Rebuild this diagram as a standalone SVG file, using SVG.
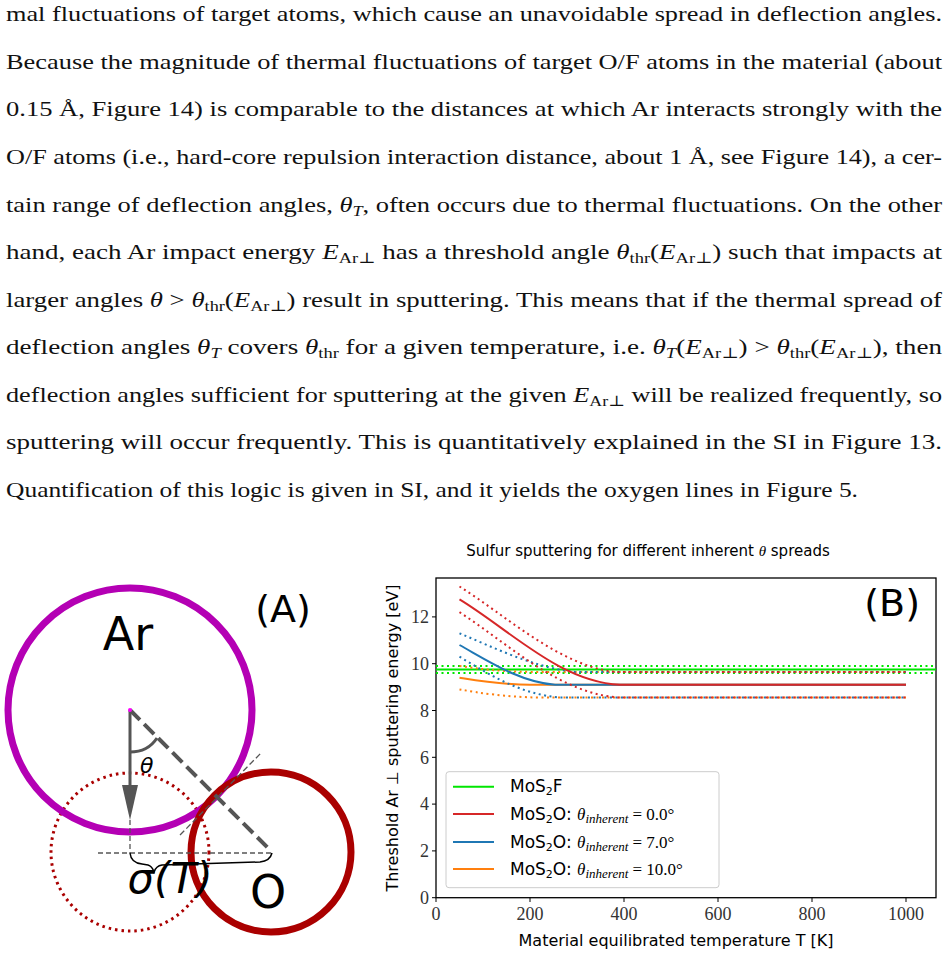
<svg xmlns="http://www.w3.org/2000/svg" width="949" height="956" viewBox="0 0 949 956">
<style>
.p{font-family:"Liberation Serif","DejaVu Serif",serif;font-size:22px;fill:#111}
.i{font-style:italic}
.s{font-size:15px}
.sf{font-family:"DejaVu Sans","Liberation Sans",sans-serif;fill:#000}
.tk{font-family:"Liberation Serif","DejaVu Serif",serif;font-size:18px;fill:#333}
.dot{stroke-dasharray:2 3.5;fill:none;stroke-width:2}
.sol{fill:none;stroke-width:2}
</style>
<rect width="949" height="956" fill="#fff"/>
<g id="text">
<text class="p" x="6" y="21" textLength="936" lengthAdjust="spacingAndGlyphs">mal fluctuations of target atoms, which cause an unavoidable spread in deflection angles.</text>
<text class="p" x="6" y="69" textLength="936" lengthAdjust="spacingAndGlyphs">Because the magnitude of thermal fluctuations of target O/F atoms in the material (about</text>
<text class="p" x="6" y="116" textLength="936" lengthAdjust="spacingAndGlyphs">0.15 Å, Figure 14) is comparable to the distances at which Ar interacts strongly with the</text>
<text class="p" x="6" y="164" textLength="936" lengthAdjust="spacingAndGlyphs">O/F atoms (i.e., hard-core repulsion interaction distance, about 1 Å, see Figure 14), a cer-</text>
<text class="p" x="6" y="212" textLength="936" lengthAdjust="spacingAndGlyphs">tain range of deflection angles, <tspan class="i">θ</tspan><tspan class="i s" dy="4">T</tspan><tspan dy="-4">, often occurs due to thermal fluctuations. On the other</tspan></text>
<text class="p" x="6" y="259" textLength="936" lengthAdjust="spacingAndGlyphs">hand, each Ar impact energy <tspan class="i">E</tspan><tspan class="s" dy="4">Ar⊥</tspan><tspan dy="-4"> has a threshold angle </tspan><tspan class="i">θ</tspan><tspan class="s" dy="4">thr</tspan><tspan dy="-4">(</tspan><tspan class="i">E</tspan><tspan class="s" dy="4">Ar⊥</tspan><tspan dy="-4">) such that impacts at</tspan></text>
<text class="p" x="6" y="307" textLength="936" lengthAdjust="spacingAndGlyphs">larger angles <tspan class="i">θ</tspan> &gt; <tspan class="i">θ</tspan><tspan class="s" dy="4">thr</tspan><tspan dy="-4">(</tspan><tspan class="i">E</tspan><tspan class="s" dy="4">Ar⊥</tspan><tspan dy="-4">) result in sputtering. This means that if the thermal spread of</tspan></text>
<text class="p" x="6" y="354" textLength="936" lengthAdjust="spacingAndGlyphs">deflection angles <tspan class="i">θ</tspan><tspan class="i s" dy="4">T</tspan><tspan dy="-4"> covers </tspan><tspan class="i">θ</tspan><tspan class="s" dy="4">thr</tspan><tspan dy="-4"> for a given temperature, i.e. </tspan><tspan class="i">θ</tspan><tspan class="i s" dy="4">T</tspan><tspan dy="-4">(</tspan><tspan class="i">E</tspan><tspan class="s" dy="4">Ar⊥</tspan><tspan dy="-4">) &gt; </tspan><tspan class="i">θ</tspan><tspan class="s" dy="4">thr</tspan><tspan dy="-4">(</tspan><tspan class="i">E</tspan><tspan class="s" dy="4">Ar⊥</tspan><tspan dy="-4">), then</tspan></text>
<text class="p" x="6" y="402" textLength="936" lengthAdjust="spacingAndGlyphs">deflection angles sufficient for sputtering at the given <tspan class="i">E</tspan><tspan class="s" dy="4">Ar⊥</tspan><tspan dy="-4"> will be realized frequently, so</tspan></text>
<text class="p" x="6" y="449" textLength="936" lengthAdjust="spacingAndGlyphs">sputtering will occur frequently. This is quantitatively explained in the SI in Figure 13.</text>
<text class="p" x="6" y="497" textLength="852" lengthAdjust="spacingAndGlyphs">Quantification of this logic is given in SI, and it yields the oxygen lines in Figure 5.</text>
</g>
<g id="panelA">
<circle cx="130" cy="852" r="79" fill="none" stroke="#aa0000" stroke-width="3" stroke-dasharray="2.5 4"/>
<circle cx="130" cy="710" r="122" fill="none" stroke="#b400b4" stroke-width="7"/>
<circle cx="271" cy="852" r="80" fill="none" stroke="#aa0000" stroke-width="7"/>
<line x1="130" y1="710" x2="270" y2="850" stroke="#555" stroke-width="4" stroke-dasharray="14 6"/>
<line x1="180" y1="835" x2="262" y2="752" stroke="#555" stroke-width="1.3" stroke-dasharray="6 3"/>
<line x1="98" y1="853" x2="272" y2="853" stroke="#555" stroke-width="1.3" stroke-dasharray="5 3"/>
<line x1="130" y1="820" x2="130" y2="853" stroke="#555" stroke-width="1.3" stroke-dasharray="5 3"/>
<line x1="130" y1="710" x2="130" y2="790" stroke="#555" stroke-width="3"/>
<path d="M122,785 L138,785 L130,820 Z" fill="#555"/>
<path d="M130,752 Q148,752 157,738" fill="none" stroke="#555" stroke-width="3"/>
<circle cx="130" cy="710" r="2" fill="#ff00ff"/>
<path d="M130,853 Q131,863 142,864 L148,865 Q152,866 154,872 Q156,866 162,865 L260,862 Q270,861 272,853" fill="none" stroke="#000" stroke-width="1.5"/>
<text class="sf" x="140" y="773" font-size="22" font-style="italic">θ</text>
<text class="sf" x="128" y="650" font-size="46" text-anchor="middle">Ar</text>
<text class="sf" x="283" y="622" font-size="38" text-anchor="middle">(A)</text>
<text class="sf" x="268" y="908" font-size="46" text-anchor="middle">O</text>
<text class="sf" x="170" y="893" font-size="42" text-anchor="middle" font-style="italic">σ(T)</text>
</g>
<g id="panelB">
<text class="sf" x="648" y="556" font-size="15" text-anchor="middle">Sulfur sputtering for different inherent <tspan font-style="italic" font-family="Liberation Serif">θ</tspan> spreads</text>
<rect x="436" y="578" width="500" height="319.7" fill="none" stroke="#000" stroke-width="1.3"/>
<g stroke="#000" stroke-width="1">
<line x1="436" y1="897.7" x2="436" y2="902"/><line x1="530" y1="897.7" x2="530" y2="902"/><line x1="624" y1="897.7" x2="624" y2="902"/><line x1="718" y1="897.7" x2="718" y2="902"/><line x1="812" y1="897.7" x2="812" y2="902"/><line x1="906" y1="897.7" x2="906" y2="902"/>
<line x1="432" y1="897.7" x2="436" y2="897.7"/><line x1="432" y1="850.9" x2="436" y2="850.9"/><line x1="432" y1="804.1" x2="436" y2="804.1"/><line x1="432" y1="757.3" x2="436" y2="757.3"/><line x1="432" y1="710.5" x2="436" y2="710.5"/><line x1="432" y1="663.7" x2="436" y2="663.7"/><line x1="432" y1="616.9" x2="436" y2="616.9"/>
</g>
<g class="tk" text-anchor="middle">
<text x="436" y="920">0</text><text x="530" y="920">200</text><text x="624" y="920">400</text><text x="718" y="920">600</text><text x="812" y="920">800</text><text x="906" y="920">1000</text>
</g>
<g class="tk" text-anchor="end">
<text x="429" y="904">0</text><text x="429" y="857">2</text><text x="429" y="810">4</text><text x="429" y="764">6</text><text x="429" y="717">8</text><text x="429" y="670">10</text><text x="429" y="623">12</text>
</g>
<text class="sf" x="676" y="946" font-size="16" text-anchor="middle">Material equilibrated temperature T [K]</text>
<text class="sf" transform="translate(398,738) rotate(-90)" font-size="16" text-anchor="middle">Threshold Ar ⊥ sputtering energy [eV]</text>
<line x1="436" y1="669.5" x2="936" y2="669.5" stroke="#00e600" stroke-width="2"/>
<line x1="436" y1="666" x2="936" y2="666" stroke="#00e600" class="dot"/>
<line x1="436" y1="673.1" x2="936" y2="673.1" stroke="#00e600" class="dot"/>
<g stroke="#ff7f0e">
<path class="sol" d="M459.5,677.7 C480,681 500,684.5 530,684.8 L906,684.8"/>
<path class="dot" d="M459.5,666 C480,669 500,671.5 530,671.9 L906,671.9"/>
<path class="dot" d="M459.5,689.4 C480,693 505,697 540,697.6 L906,697.6"/>
</g>
<g stroke="#1f77b4">
<path class="sol" d="M459.5,645 C490,662 520,682 555,684.8 L906,684.8"/>
<path class="dot" d="M459.5,633.3 C495,648 535,668 575,671.9 L906,671.9"/>
<path class="dot" d="M459.5,656.7 C490,675 520,694 560,697.6 L906,697.6"/>
</g>
<g stroke="#d62728">
<path class="sol" d="M459.5,599.4 C510,630 560,682 620,684.8 L906,684.8"/>
<path class="dot" d="M459.5,586.5 C505,615 560,666 615,671.9 L906,671.9"/>
<path class="dot" d="M459.5,612.2 C510,645 560,694 620,697.6 L906,697.6"/>
</g>
<text class="sf" x="920" y="616" font-size="38" text-anchor="end">(B)</text>
<g id="legend">
<rect x="446" y="771.7" width="273" height="116" rx="3" fill="#fff" fill-opacity="0.8" stroke="#ccc"/>
<line x1="453" y1="786.7" x2="494" y2="786.7" stroke="#00e600" stroke-width="2"/>
<line x1="453" y1="814" x2="494" y2="814" stroke="#d62728" stroke-width="2"/>
<line x1="453" y1="842" x2="494" y2="842" stroke="#1f77b4" stroke-width="2"/>
<line x1="453" y1="869" x2="494" y2="869" stroke="#ff7f0e" stroke-width="2"/>
<g class="sf" font-size="17">
<text x="510" y="792">MoS<tspan font-size="11" dy="3">2</tspan><tspan dy="-3">F</tspan></text>
<text x="510" y="820">MoS<tspan font-size="11" dy="3">2</tspan><tspan dy="-3">O: </tspan><tspan font-family="Liberation Serif" font-style="italic">θ<tspan font-size="13" dy="3">inherent</tspan></tspan><tspan font-family="Liberation Serif" dy="-3"> = 0.0°</tspan></text>
<text x="510" y="848">MoS<tspan font-size="11" dy="3">2</tspan><tspan dy="-3">O: </tspan><tspan font-family="Liberation Serif" font-style="italic">θ<tspan font-size="13" dy="3">inherent</tspan></tspan><tspan font-family="Liberation Serif" dy="-3"> = 7.0°</tspan></text>
<text x="510" y="875">MoS<tspan font-size="11" dy="3">2</tspan><tspan dy="-3">O: </tspan><tspan font-family="Liberation Serif" font-style="italic">θ<tspan font-size="13" dy="3">inherent</tspan></tspan><tspan font-family="Liberation Serif" dy="-3"> = 10.0°</tspan></text>
</g>
</g>
</g>
</svg>
